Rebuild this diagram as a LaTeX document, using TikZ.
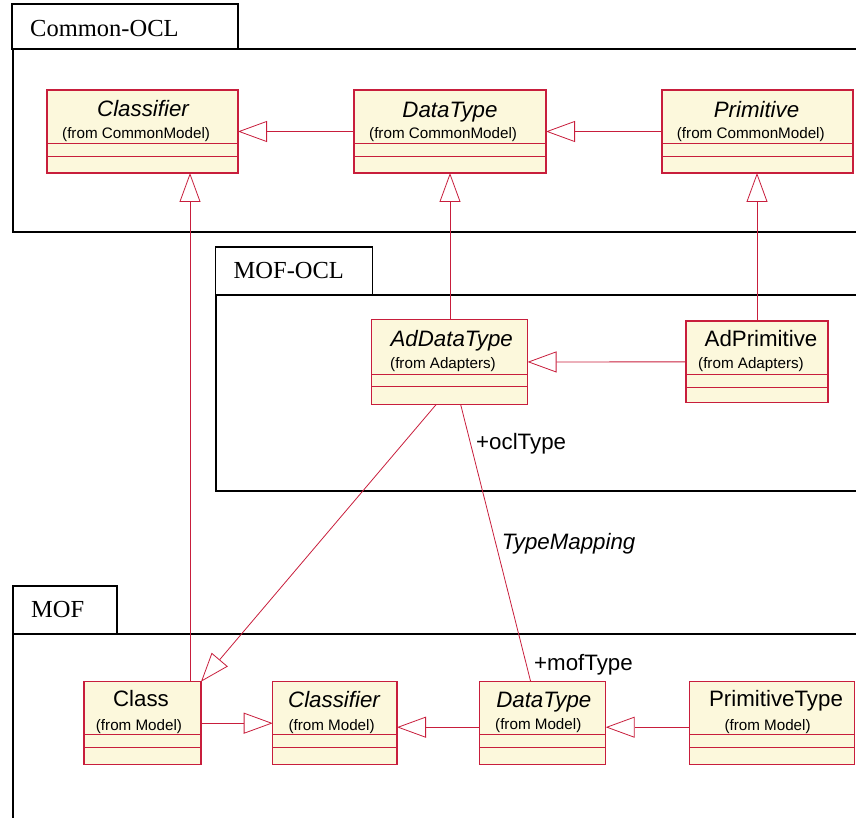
\documentclass[tikz,border=0pt]{standalone}
\usepackage{fontspec}
\setmainfont{Liberation Serif}
\newfontfamily\umlsans{Liberation Sans}
\usetikzlibrary{arrows.meta,calc}
\definecolor{umlred}{RGB}{200,30,60}
\definecolor{umlfill}{RGB}{252,248,220}
\tikzset{
  pkg/.style={draw=black,line width=1.7pt},
  pkgtitle/.style={font=\fontsize{24.5}{26}\selectfont,anchor=base west,inner sep=0pt},
  clsbox/.style={draw=umlred,fill=umlfill,line width=1.1pt,inner sep=0pt,outer sep=0pt,anchor=north west},
  clssep/.style={draw=umlred,line width=0.9pt},
  nm/.style={font=\umlsans\fontsize{22.3}{24}\selectfont,anchor=base,inner sep=0pt},
  frm/.style={font=\umlsans\fontsize{15.2}{17}\selectfont,anchor=base west,inner sep=0pt},
  lbl/.style={font=\umlsans\fontsize{22.3}{24}\selectfont,anchor=base west,inner sep=0pt},
  gen/.style={draw=umlred,line width=0.8pt,-{Triangle[open,length=29pt,width=21pt,fill=white,line width=0.8pt]}},
  assoc/.style={draw=umlred,line width=0.8pt},
}
\begin{document}
\begin{tikzpicture}[x=1pt,y=-1pt]
\useasboundingbox (0,0) rectangle (856,818);
% packages
\draw[pkg] (12,4.3) rectangle (238.3,49.3);
\draw[pkg] (856,49.3) -- (12.7,49.3) -- (12.7,232.3) -- (856,232.3);
\node[pkgtitle] (tCommon) at (30,36.7) {Common-OCL};
\draw[pkg] (215.5,246.7) rectangle (372.4,295);
\draw[pkg] (856,295) -- (216,295) -- (216,490.7) -- (856,490.7);
\node[pkgtitle] (tMofOcl) at (233.5,279) {MOF-OCL};
\draw[pkg] (12.7,585.7) rectangle (117.3,633.7);
\draw[pkg] (856,633.7) -- (12.7,633.7) -- (12.7,818);
\node[pkgtitle] (tMof) at (31,617.7) {MOF};
% classes: Common-OCL
\node[clsbox,minimum width=191pt,minimum height=83pt] (c1) at (47,90) {};
\node[clsbox,minimum width=192pt,minimum height=83pt] (d1) at (354,90) {};
\node[clsbox,minimum width=191pt,minimum height=83pt] (p1) at (662,90) {};
\foreach \n in {c1,d1,p1}{
  \draw[clssep] ([yshift=-53pt]\n.north west) -- ([yshift=-53pt]\n.north east);
  \draw[clssep] ([yshift=-66pt]\n.north west) -- ([yshift=-66pt]\n.north east);
}
\node[nm] (c1n) at (143,116.7) {\itshape Classifier};
\node[frm] (c1f) at (62,139) {(from CommonModel)};
\node[nm] (d1n) at (450,117.3) {\itshape DataType};
\node[frm] (d1f) at (369,139) {(from CommonModel)};
\node[nm] (p1n) at (756.5,117.3) {\itshape Primitive};
\node[frm] (p1f) at (676.7,139) {(from CommonModel)};
% classes: MOF-OCL
\node[clsbox,minimum width=156pt,minimum height=85.5pt] (ad) at (371.5,319.2) {};
\node[clsbox,minimum width=142pt,minimum height=81.7pt] (adp) at (686,321) {};
\draw[clssep] ([yshift=-55pt]ad.north west) -- ([yshift=-55pt]ad.north east);
\draw[clssep] ([yshift=-67.5pt]ad.north west) -- ([yshift=-67.5pt]ad.north east);
\draw[clssep] ([yshift=-53pt]adp.north west) -- ([yshift=-53pt]adp.north east);
\draw[clssep] ([yshift=-66pt]adp.north west) -- ([yshift=-66pt]adp.north east);
\node[nm] (adn) at (451.7,346.7) {\itshape AdDataType};
\node[frm] (adf) at (390,368.3) {(from Adapters)};
\node[nm] (adpn) at (761,346) {AdPrimitive};
\node[frm] (adpf) at (698,368.3) {(from Adapters)};
% classes: MOF
\node[clsbox,minimum width=117pt,minimum height=83pt] (cls) at (84,681.7) {};
\node[clsbox,minimum width=124.3pt,minimum height=83pt] (c2) at (272.7,681.7) {};
\node[clsbox,minimum width=126.4pt,minimum height=83pt] (d2) at (479.3,681.7) {};
\node[clsbox,minimum width=164.6pt,minimum height=83pt] (pt) at (689.7,681.7) {};
\foreach \n in {cls,c2,d2,pt}{
  \draw[clssep] ([yshift=-53pt]\n.north west) -- ([yshift=-53pt]\n.north east);
  \draw[clssep] ([yshift=-65.6pt]\n.north west) -- ([yshift=-65.6pt]\n.north east);
}
\node[nm] (clsn) at (141,706.7) {Class};
\node[frm] (clsf) at (95.7,730.7) {(from Model)};
\node[nm] (c2n) at (334,707.7) {\itshape Classifier};
\node[frm] (c2f) at (288.3,730.7) {(from Model)};
\node[nm] (d2n) at (543.8,707.7) {\itshape DataType};
\node[frm] (d2f) at (495,729) {(from Model)};
\node[nm] (ptn) at (776,706.7) {PrimitiveType};
\node[frm] (ptf) at (724.3,730.7) {(from Model)};
% generalizations
\draw[gen] (d1.west) -- (c1.east);
\draw[gen] (p1.west) -- (d1.east);
\draw[gen] (ad.north -| 450,0) -- (d1.south -| 450,0);
\draw[gen] (adp.north) -- (p1.south -| 757,0);
\draw[gen] (adp.west) -- (ad.east);
\draw[gen] (cls.north -| 190,0) -- (c1.south -| 190,0);
\draw[gen] (ad.south -| 436,0) -- (cls.north east);
\draw[gen] (cls.east) -- (c2.west);
\draw[gen] ([yshift=-4pt]d2.west) -- ([yshift=-4pt]c2.east);
\draw[gen] ([yshift=-4pt]pt.west) -- ([yshift=-4pt]d2.east);
% association
\draw[assoc] (ad.south -| 460.7,0) -- (d2.north -| 530.7,0);
\node[lbl] (ocl) at (476,449.3) {+oclType};
\node[lbl] (tm) at (501.7,549.3) {\itshape TypeMapping};
\node[lbl] (mof) at (534,670) {+mofType};
\end{tikzpicture}
\end{document}
